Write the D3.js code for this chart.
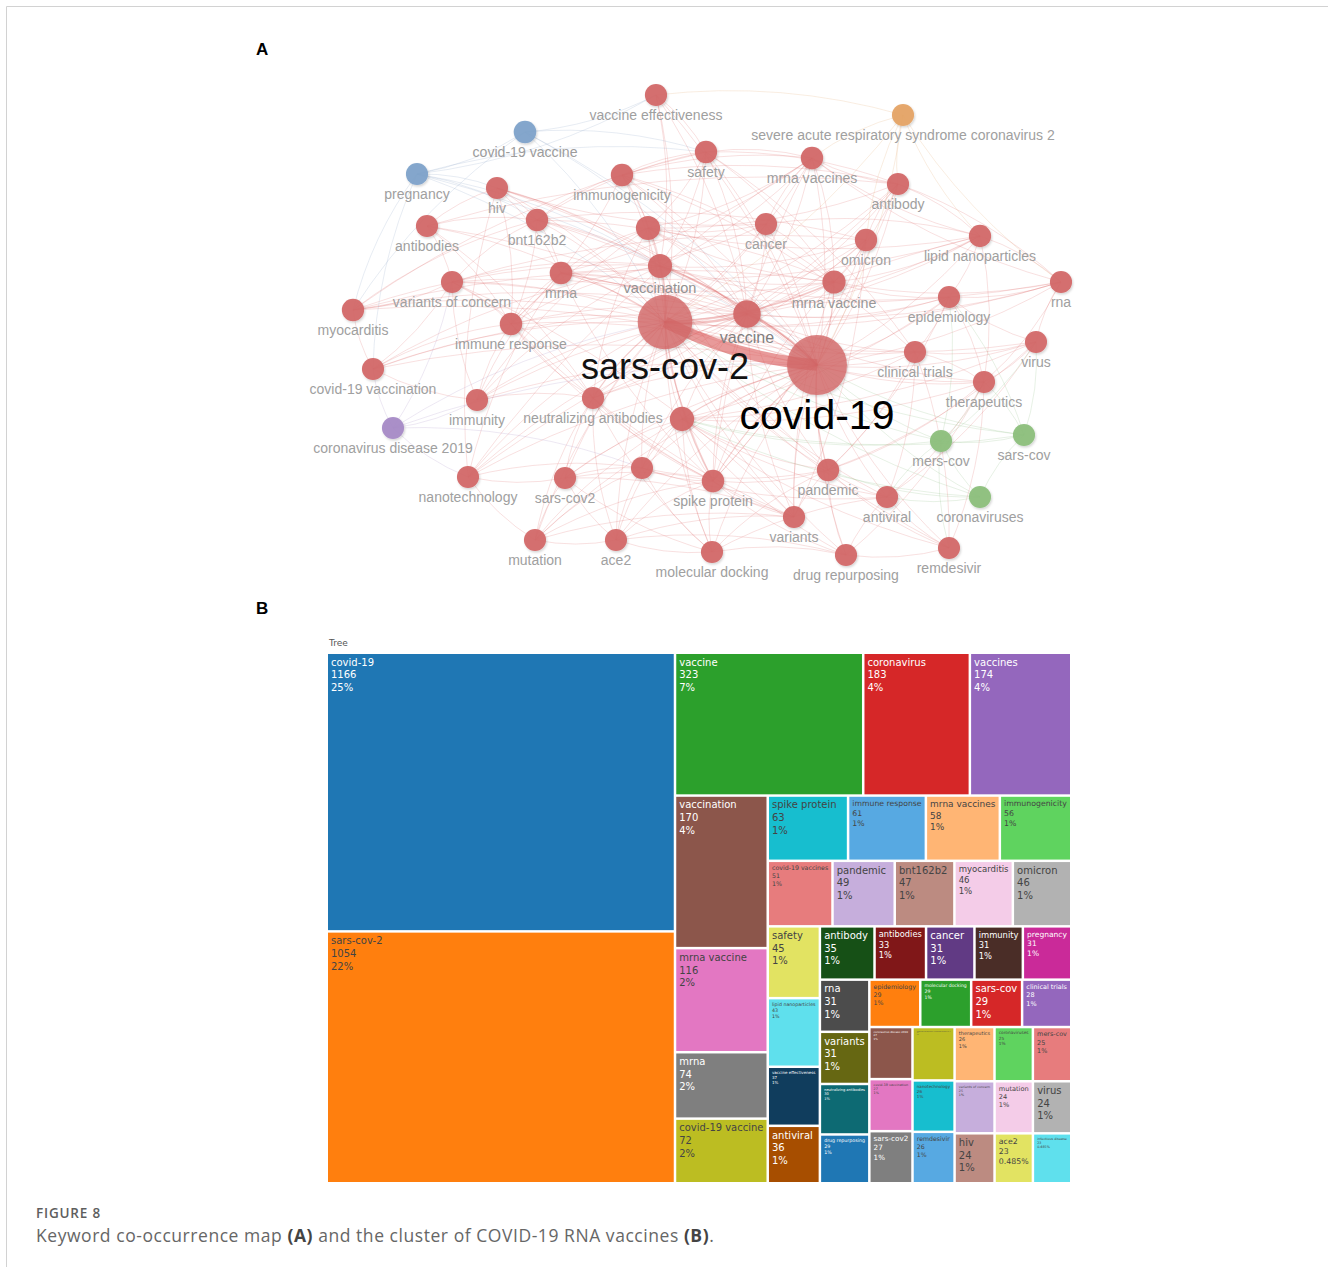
<!DOCTYPE html>
<html>
<head>
<meta charset="utf-8">
<script src="https://cdn.jsdelivr.net/npm/d3@7"></script>
<style>
  html, body { margin: 0; padding: 0; background: #fff; }
  svg { display: block; }
</style>
</head>
<body>
<svg id="fig" width="1328" height="1267"></svg>
<script>
// ---------- Panel A: keyword co-occurrence network ----------
const nodeIds = ["ve","sarsfull","c19v","saf","mvs","preg","hiv","immg","ab","bnt","abs","vacs","can","omi","lnp","vacn","mrna","voc","mv","rna","epi","myo","sc2","vac","ir","c19","ct","vir","c19vn","ther","imm","nab","cov","cd19","mers","sars","nano","sc2b","inf","sp","pan","av","covs","var","mut","ace2","md","dr","rem"];
const nodeLabels = ["vaccine effectiveness","severe acute respiratory syndrome coronavirus 2","covid-19 vaccine","safety","mrna vaccines","pregnancy","hiv","immunogenicity","antibody","bnt162b2","antibodies","vaccines","cancer","omicron","lipid nanoparticles","vaccination","mrna","variants of concern","mrna vaccine","rna","epidemiology","myocarditis","sars-cov-2","vaccine","immune response","covid-19","clinical trials","virus","covid-19 vaccination","therapeutics","immunity","neutralizing antibodies","coronavirus","coronavirus disease 2019","mers-cov","sars-cov","nanotechnology","sars-cov2","infectious disease","spike protein","pandemic","antiviral","coronaviruses","variants","mutation","ace2","molecular docking","drug repurposing","remdesivir"];
// 0 = label hidden by overlap
const labelShown = [1,1,1,1,1,1,1,1,1,1,1,0,1,1,1,1,1,1,1,1,1,1,1,1,1,1,1,1,1,1,1,1,0,1,1,1,1,1,0,1,1,1,1,1,1,1,1,1,1];
// layout coordinates of the map
const nodeX = [356,603,225,406,512,117,197,322,598,237,127,348,466,566,680,360,261,152,534,761,649,53,365,447,211,517,615,736,73,684,177,293,382,93,641,724,168,265,342,413,528,587,680,494,235,316,412,546,649];
const nodeY = [15,35,52,72,78,94,108,95,104,140,146,148,144,160,156,186,193,202,202,202,217,230,242,234,244,285,272,262,289,302,320,318,339,348,361,355,397,398,388,401,390,417,417,437,460,460,472,475,468];
// occurrences
const nodeWeight = [37,27,72,45,58,31,24,56,35,47,33,174,31,46,43,170,74,25,116,31,29,46,1054,323,61,1166,28,24,27,26,31,30,183,27,25,29,26,27,23,63,49,36,25,31,24,23,29,29,26];
// cluster: 1 red, 2 blue, 3 orange, 4 purple, 5 green
const nodeCluster = [1,3,2,1,1,2,1,1,1,1,1,1,1,1,1,1,1,1,1,1,1,1,1,1,1,1,1,1,1,1,1,1,1,4,5,5,1,1,1,1,1,1,5,1,1,1,1,1,1];

// co-occurrence links, listed per source keyword
const adjacency = [
  ["sc2", ["c19","vac","vacn","vacs","mrna","mv","mvs","ir","nab","cov","inf","sp","pan","var","imm","immg","bnt","abs","ab","saf","can","omi","lnp","rna","epi","myo","ct","vir","ther","c19vn","voc","hiv","preg","c19v","ve","sarsfull","cd19","mers","sars","nano","sc2b","av","covs","mut","ace2","md","dr","rem"]],
  ["c19", ["vac","vacn","vacs","mrna","mv","mvs","ir","nab","cov","inf","sp","pan","var","imm","immg","bnt","abs","ab","saf","can","omi","lnp","rna","epi","myo","ct","vir","ther","c19vn","voc","hiv","preg","c19v","ve","sarsfull","cd19","mers","sars","nano","sc2b","av","covs","mut","ace2","md","dr","rem"]],
  ["vac", ["vacn","vacs","mrna","mv","mvs","ir","nab","sp","pan","var","imm","immg","bnt","ab","saf","can","omi","lnp","rna","epi","ct","ther","voc","hiv","c19v","ve","myo","c19vn","nano","cov","inf"]],
  ["vacn", ["vacs","mv","mvs","saf","immg","bnt","myo","preg","c19vn","voc","omi","ve","imm","ir","pan","epi","hiv"]],
  ["vacs", ["mrna","mvs","saf","immg","can","lnp","ir","imm","nab","sp","mv","ab"]],
  ["mrna", ["mv","mvs","lnp","can","rna","ir","sp","imm","nano","hiv","bnt"]],
  ["mv", ["mvs","bnt","omi","lnp","rna","saf","immg","myo","sp","var","ab","epi","can"]],
  ["mvs", ["lnp","can","immg","saf","ab","rna","sp","nano"]],
  ["ir", ["nab","imm","sp","immg","abs","voc","var","bnt","hiv","c19vn"]],
  ["nab", ["sp","var","omi","ab","abs","imm","voc","ace2","sc2b","mut","md"]],
  ["cov", ["inf","sp","pan","av","dr","md","rem","ther","ct","epi","vir","mers","sars","covs","ace2","mut","sc2b"]],
  ["inf", ["sp","pan","ace2","mut","sc2b","nano","md","av","cd19"]],
  ["sp", ["ace2","mut","var","md","sc2b","ab","omi","pan","dr"]],
  ["pan", ["epi","ct","ther","av","dr","var","vir","rem","covs","md"]],
  ["var", ["omi","mut","voc","ace2","sc2b"]],
  ["av", ["dr","rem","md","ther","ct","vir","covs"]],
  ["dr", ["md","rem","ther","ace2"]],
  ["rem", ["ther","ct"]],
  ["mers", ["sars","covs","vir","ther","av","rem","epi"]],
  ["sars", ["covs","vir","ther","epi"]],
  ["ther", ["ct","vir","epi","lnp","rna"]],
  ["ct", ["epi","vir","saf","immg"]],
  ["epi", ["vir","rna","lnp"]],
  ["rna", ["lnp","vir","ab"]],
  ["lnp", ["nano","can","ab"]],
  ["ab", ["omi","immg","abs","saf"]],
  ["omi", ["voc","bnt"]],
  ["saf", ["immg","myo","bnt","preg","ve","c19v"]],
  ["immg", ["bnt"]],
  ["bnt", ["myo","preg","hiv","abs","voc"]],
  ["hiv", ["preg","abs","can","nano"]],
  ["preg", ["c19v","myo","c19vn","ve"]],
  ["c19v", ["ve","myo"]],
  ["myo", ["c19vn","voc"]],
  ["c19vn", ["cd19","imm","voc"]],
  ["cd19", ["imm","nano","voc"]],
  ["sarsfull", ["ve","omi","ab","mvs","lnp","rna"]],
  ["nano", ["sc2b","mut"]],
  ["sc2b", ["mut","ace2","md"]],
  ["mut", ["ace2"]],
  ["ace2", ["md"]],
  ["voc", ["abs","imm"]]
];
// link strength for the heavier co-occurrences (others = 1)
const strongLinks = [
  ["sc2","c19",12],["sc2","vac",3],["c19","vac",2.5],["sc2","vacn",2],["c19","vacn",1.8],
  ["sc2","mv",2],["c19","mv",1.6],["sc2","sp",1.8],["c19","pan",1.6],["sc2","nab",1.5],
  ["c19","cov",1.5],["sc2","mrna",1.4],["vac","vacn",1.4],["c19","sp",1.4]
];

// ---------- Panel B: treemap of keyword counts ----------
const keywords = ["covid-19","sars-cov-2","vaccine","coronavirus","vaccines","vaccination","mrna vaccine","mrna","covid-19 vaccine","spike protein","immune response","mrna vaccines","immunogenicity","covid-19 vaccines","pandemic","bnt162b2","myocarditis","omicron","safety","lipid nanoparticles","vaccine effectiveness","antiviral","antibody","antibodies","cancer","immunity","pregnancy","rna","variants","neutralizing antibodies","drug repurposing","epidemiology","molecular docking","sars-cov","clinical trials","coronavirus disease 2019","covid-19 vaccination","sars-cov2","severe acute respiratory syndrome coronavirus 2","nanotechnology","remdesivir","therapeutics","coronaviruses","mers-cov","variants of concern","hiv","mutation","virus","ace2","infectious disease"];
const counts = [1166,1054,323,183,174,170,116,74,72,63,61,58,56,51,49,47,46,46,45,43,37,36,35,33,31,31,31,31,31,30,29,29,29,29,28,27,27,27,27,26,26,26,25,25,25,24,24,24,23,23];
const shares = ["25%","22%","7%","4%","4%","4%","2%","2%","2%","1%","1%","1%","1%","1%","1%","1%","1%","1%","1%","1%","1%","1%","1%","1%","1%","1%","1%","1%","1%","1%","1%","1%","1%","1%","1%","1%","1%","1%","1%","1%","1%","1%","1%","1%","1%","1%","1%","1%","0.485%","0.485%"];
const rootLabel = "Tree";

// ---------- drawing ----------
const svg = d3.select("#fig");

// figure frame
svg.append("path")
  .attr("d", "M6.5,1267V6.5H1328")
  .attr("fill", "none").attr("stroke", "#d2d2d2").attr("stroke-width", 1);

// panel letters
svg.append("text").attr("x", 256).attr("y", 55).text("A")
  .attr("font-family", "Liberation Sans, Arial, sans-serif").attr("font-weight", "bold").attr("font-size", 17);
svg.append("text").attr("x", 256).attr("y", 614).text("B")
  .attr("font-family", "Liberation Sans, Arial, sans-serif").attr("font-weight", "bold").attr("font-size", 17);

// --- network ---
const defs = svg.append("defs");
const shadow = defs.append("filter").attr("id", "nodeShadow")
  .attr("x", "-40%").attr("y", "-40%").attr("width", "180%").attr("height", "180%");
shadow.append("feDropShadow").attr("dx", 1).attr("dy", 1.5).attr("stdDeviation", 1.2)
  .attr("flood-color", "#000").attr("flood-opacity", 0.18);

const xMap = d3.scaleLinear().domain([0, 780]).range([300, 1080]);
const yMap = d3.scaleLinear().domain([0, 510]).range([80, 590]);
const rScale = d3.scalePow().exponent(1.5).domain([0, 1166]).range([11, 30]);
const fScale = d3.scalePow().exponent(2).domain([0, 1166]).range([14, 41]);
const tone = d3.scalePow().exponent(1.2).domain([0, 1166]).range(["#a2a2a2", "#000000"]);
const clusterFill = {1: "#d36868", 2: "#7ea2ca", 3: "#e5a466", 4: "#a68ac6", 5: "#8cbf7c"};
const clusterEdge = {1: "rgb(218,92,92)", 2: "rgb(130,155,190)", 3: "rgb(225,160,100)", 4: "rgb(160,135,195)", 5: "rgb(130,180,120)"};

const nodes = nodeIds.map((id, i) => ({
  id, label: nodeLabels[i], show: labelShown[i] === 1,
  x: xMap(nodeX[i]), y: yMap(nodeY[i]), w: nodeWeight[i], c: nodeCluster[i]
}));
const byId = new Map(nodes.map(n => [n.id, n]));

const strength = new Map();
strongLinks.forEach(([a, b, s]) => { strength.set(a + "|" + b, s); strength.set(b + "|" + a, s); });

const seen = new Set();
const links = [];
adjacency.forEach(([src, targets]) => {
  targets.forEach(t => {
    const key = src < t ? src + "|" + t : t + "|" + src;
    if (seen.has(key)) return;
    seen.add(key);
    links.push({ s: byId.get(src), t: byId.get(t), w: strength.get(src + "|" + t) || 1 });
  });
});
links.sort((a, b) => a.w - b.w);

const wScale = d3.scaleLinear().domain([1, 12]).range([0.65, 11.5]);
const oScale = d3.scaleLinear().domain([1, 12]).range([0.3, 0.62]);

function curve(d) {
  const sx = d.s.x, sy = d.s.y, tx = d.t.x, ty = d.t.y;
  const dx = tx - sx, dy = ty - sy;
  const cx = (sx + tx) / 2 - 0.1 * dy, cy = (sy + ty) / 2 + 0.1 * dx;
  return `M${sx},${sy}Q${cx},${cy} ${tx},${ty}`;
}

const gNet = svg.append("g");
gNet.append("g").selectAll("path").data(links).join("path")
  .attr("d", curve)
  .attr("fill", "none")
  .attr("stroke", d => clusterEdge[d.s.c !== 1 ? d.s.c : d.t.c])
  .attr("stroke-opacity", d => oScale(d.w))
  .attr("stroke-width", d => wScale(d.w))
  .attr("stroke-linecap", "butt");

gNet.append("g").selectAll("circle").data(nodes).join("circle")
  .attr("cx", d => d.x).attr("cy", d => d.y)
  .attr("r", d => rScale(d.w))
  .attr("fill", d => clusterFill[d.c])
  .attr("fill-opacity", d => d.w > 500 ? 0.8 : 0.95)
  .attr("filter", "url(#nodeShadow)");

gNet.append("g").selectAll("text").data(nodes.filter(n => n.show)).join("text")
  .attr("x", d => d.x)
  .attr("y", d => d.y + rScale(d.w) + 4 + 0.72 * fScale(d.w))
  .attr("text-anchor", "middle")
  .attr("font-family", "Liberation Sans, Arial, sans-serif")
  .attr("font-size", d => fScale(d.w))
  .attr("fill", d => tone(d.w))
  .text(d => d.label);

// --- treemap ---
const base = d3.schemeCategory10;
const shade = (c, k) => { const h = d3.hsl(c); h.l = Math.max(0, Math.min(1, h.l + k)); return h.formatHex(); };
const palette = base.concat(base.map(c => shade(c, 0.2)), base.map(c => shade(c, -0.2)));
const isDark = c => { const r = d3.rgb(c); return (r.r * 299 + r.g * 587 + r.b * 114) / 1000 < 128; };

const tmW = 742, tmH = 528, tmX = 328, tmY = 654;
const root = d3.hierarchy({ children: keywords.map((k, i) => ({ name: k, value: counts[i], share: shares[i], idx: i })) })
  .sum(d => d.value || 0);
d3.treemap().tile(d3.treemapSquarify.ratio(1)).size([tmW, tmH]).paddingInner(2.5)(root);

const gTm = svg.append("g").attr("transform", `translate(${tmX},${tmY})`);
gTm.append("text").attr("x", 1).attr("y", -8).text(rootLabel)
  .attr("font-family", "DejaVu Sans, Verdana, sans-serif").attr("font-size", 9).attr("fill", "#555");

const cell = gTm.selectAll("g.cell").data(root.leaves()).join("g")
  .attr("class", "cell")
  .attr("transform", d => `translate(${d.x0},${d.y0})`);

cell.append("rect")
  .attr("width", d => d.x1 - d.x0)
  .attr("height", d => d.y1 - d.y0)
  .attr("fill", d => palette[d.data.idx % palette.length]);

const baseSize = 10, lineH = 1.27;
cell.each(function (d) {
  const g = d3.select(this);
  const w = d.x1 - d.x0, h = d.y1 - d.y0;
  const fill = palette[d.data.idx % palette.length];
  const txt = g.append("text")
    .attr("font-family", "DejaVu Sans, Verdana, sans-serif")
    .attr("font-size", baseSize)
    .attr("fill", isDark(fill) ? "#fff" : "#444");
  const lines = [d.data.name, String(d.data.value), d.data.share];
  lines.forEach((s, i) => txt.append("tspan").attr("x", 0).attr("dy", i === 0 ? 0 : lineH + "em").text(s));
  const bw = txt.node().getBBox().width;
  const th = (2 * lineH + 1.15) * baseSize;
  const k = Math.min(1, (w - 6) / bw, (h - 4) / th);
  const fs = baseSize * k;
  txt.attr("font-size", fs)
    .attr("transform", `translate(3,${2 + fs * 0.95})`);
});

// --- caption ---
svg.append("text").attr("x", 36).attr("y", 1218).text("FIGURE 8")
  .attr("font-family", "Open Sans, sans-serif").attr("font-size", 13.5).attr("font-weight", 600)
  .attr("letter-spacing", 0.8).attr("fill", "#5e5e5e");
const cap = svg.append("text").attr("x", 36).attr("y", 1242)
  .attr("font-family", "Open Sans, sans-serif").attr("font-size", 17.5)
  .attr("letter-spacing", 0.55).attr("fill", "#666");
cap.append("tspan").text("Keyword co-occurrence map ");
cap.append("tspan").attr("font-weight", "bold").attr("fill", "#444").text("(A)");
cap.append("tspan").text(" and the cluster of COVID-19 RNA vaccines ");
cap.append("tspan").attr("font-weight", "bold").attr("fill", "#444").text("(B)");
cap.append("tspan").text(".");
</script>
</body>
</html>
